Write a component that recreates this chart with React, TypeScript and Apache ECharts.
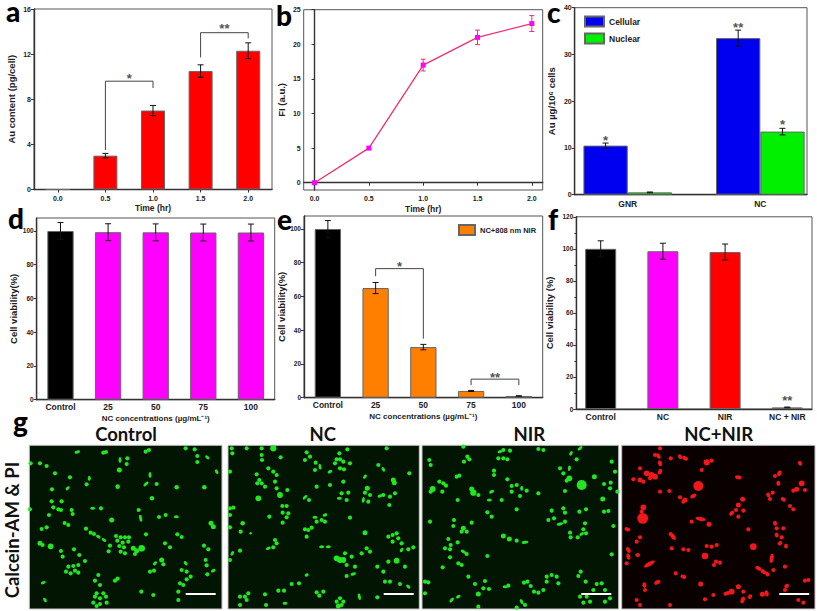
import React, { useEffect, useRef } from "react";
import * as echarts from "echarts";

const FONT = "'Liberation Sans', Arial, sans-serif";
const HEAD = "Lato, 'Open Sans', sans-serif";

const timeLabels = ["0.0", "0.5", "1.0", "1.5", "2.0"];
const auContent = [0, 3, 7, 10.5, 12.3];
const auContentErr = [0, 0.2, 0.45, 0.55, 0.7];

const timeValues = [0, 0.5, 1, 1.5, 2];
const fi = [0, 5, 17, 21, 23];
const fiErr = [0, 0, 0.85, 1.05, 1.15];

const cellTypes = ["GNR", "NC"];
const cellular = [10.5, 33.5];
const cellularErr = [0.55, 1.7];
const nuclear = [0.5, 13.5];
const nuclearErr = [0.08, 0.7];

const concLabels = ["Control", "25", "50", "75", "100"];
const viabD = [100, 99.3, 99.2, 99.1, 99.1];
const viabDErr = [5, 5, 5, 5, 5];
const viabE = [100, 65, 30, 4, 1];
const viabEErr = [5, 3.3, 1.6, 0.3, 0.15];

const groupLabels = ["Control", "NC", "NIR", "NC + NIR"];
const viabF = [100, 98.5, 98, 1];
const viabFErr = [5, 5, 5, 0.2];

// micrograph cells: [x, y, length, angle] in crop units
const controlCells = [[232,96,14,-20],[310,98],[318,96],[437,95],[447,90],[557,85],[584,88],[592,108],[592,126],[622,112,12,40],[120,130],[92,130],[140,138],[360,120,14,90],[382,115],[380,132],[358,150,12],[450,165,14,90],[650,155,12,60],[165,160],[210,172],[268,175,12,90],[260,193],[203,205,12,-45],[156,208],[438,192,15,-45],[470,192],[353,200,11],[530,202,11],[613,202,11],[456,235,11],[155,244],[185,244],[160,262],[175,268],[147,285],[183,270],[215,270],[278,265,12,0],[303,265],[218,282],[416,270],[422,295,17,80],[335,300,12],[477,291],[497,285],[529,290,12,0],[90,268],[194,309],[205,315],[633,310,12],[640,320,12],[125,327],[140,322],[258,326],[272,338],[282,342],[295,350,12,30],[312,360,12,30],[330,377],[348,348],[362,352],[375,352],[387,352],[352,362],[368,368],[385,365],[358,378],[372,382],[362,395],[375,400],[438,343],[532,343],[545,351],[120,370,12],[128,375],[152,379,14],[495,370],[510,382],[612,377],[625,388],[183,393],[222,388],[188,410],[238,405],[400,385,12],[410,392,12],[425,385,16],[405,402],[326,394],[255,423],[485,420,12],[465,430,12,-45],[490,433],[617,420],[620,436],[640,452,12,-30],[622,463],[205,440],[220,438],[235,435],[198,455],[212,460],[225,452],[235,458],[450,455],[462,452],[557,430,12,50],[545,450],[560,455],[540,490],[550,495],[560,478],[572,470],[130,488,12,-20],[295,465],[285,482],[300,495],[345,482],[353,476],[424,515],[460,525],[535,515],[535,540],[135,540,12,60],[290,520],[310,520],[285,530],[300,535],[318,530],[280,548],[300,552],[320,548],[290,558]];
const ncCells = [[695,85],[697,100],[740,85],[785,85],[820,85,15],[785,105],[786,120],[842,112],[920,97],[930,110],[947,128],[915,120],[960,140,14,80],[945,150],[1018,100],[1010,118],[1020,118],[1030,125],[1005,130],[1020,145],[1032,148],[1042,88],[1160,85],[1135,135],[1150,148,12,60],[1050,130],[805,145],[820,155],[770,163],[830,165],[778,180],[785,190],[772,190],[795,200],[825,185],[690,155],[1228,160],[1180,180,12],[1183,188,12],[1095,170,12,-50],[990,155,12,-30],[950,200],[990,195],[1030,185],[830,205],[862,210],[840,225,14],[775,235,14],[915,232,14,-45],[927,240],[1102,205,12],[1095,218],[1110,225],[1090,240,14,-80],[1105,245],[1025,220],[1045,218],[1018,235,12,0],[1040,240],[1140,228,12,-20],[1150,225],[1185,220],[1170,230],[1168,255],[860,258],[847,258],[848,278],[865,280],[860,292],[848,308],[690,265],[700,263],[690,285],[808,290],[945,292,12,0],[975,285,12,-20],[965,300],[975,305],[950,305],[1050,293],[728,310,11],[690,322],[722,335],[752,340,6],[925,330],[915,328],[935,323],[920,350],[1095,338,12],[1165,350],[1178,345],[1190,340],[1195,355],[1178,365],[1205,370],[825,360],[830,370],[805,385,12,-20],[820,382],[965,380,12,0],[985,380,12,0],[1240,382],[1225,388],[1100,385],[1085,400],[1110,395],[1205,390,12,-60],[720,392],[697,400,12,-60],[690,420],[1010,415,14],[1020,420,14],[1035,400],[1030,420,14],[1055,410],[1040,435],[1065,440],[1190,422,14],[1165,425],[1150,455],[1132,440],[1215,440],[1060,462,14,-20],[1040,468],[920,465,10,-20],[875,492],[897,490],[1155,485],[1170,485],[1200,492],[1225,500,12,40],[720,530],[735,530],[745,520],[740,540],[795,523],[835,512],[852,512],[950,517],[970,515],[958,527],[1078,530,16,80],[1132,532],[1020,535],[1010,545],[1030,545],[1015,558,12],[1025,555],[798,555],[855,550,12,0],[720,555]];
const nirCells = [[58,120],[62,135],[172,110],[162,125],[178,118],[270,95,12,-20],[280,90],[300,92],[265,115],[280,115],[292,118],[160,80],[385,87],[400,90],[510,85,14,-40],[483,100,12,-60],[500,118],[478,145,13,-80],[450,145],[460,160],[478,175,14],[470,182],[515,195,24],[553,170,12],[605,125],[615,155],[602,188],[582,192],[600,205],[622,215],[140,170],[148,167],[252,152],[252,165],[292,178],[88,185],[68,207,14],[62,215],[100,190],[108,197],[97,215],[185,207,12],[190,218,15],[205,225],[245,215,13,-30],[238,240,12,0],[143,240],[275,240],[305,198],[320,195],[335,205,12,90],[350,212],[305,215],[330,228],[385,220],[465,213],[578,237,12],[232,277],[245,290],[60,305],[132,300],[130,318],[185,308],[160,325,12],[170,335],[155,335],[320,268],[460,265],[465,278],[425,272],[508,275],[528,268],[582,275],[595,273],[432,295],[415,300],[450,312,16,-15],[465,305],[525,310],[610,318],[520,328],[515,342,12,-30],[528,340],[480,338],[482,352],[503,352],[280,348,12],[298,357,12],[320,362],[345,367,16,-10],[115,357],[122,375],[143,367],[105,385],[120,388],[160,395,14,30],[170,402],[605,403],[232,408],[120,412],[145,430],[155,435],[98,442],[512,455],[505,468],[527,485],[45,485],[55,487],[175,470],[225,483],[195,492],[285,500,12,0],[295,497],[342,488],[352,485],[410,470],[425,465],[440,470],[410,485],[445,490],[362,498],[372,515],[385,518],[400,510],[220,505],[237,507],[205,522,12],[45,520],[145,530,12,-30],[125,540,14,-50],[335,545,14,60],[345,555],[205,560],[320,563],[575,490],[560,492],[550,510],[585,510],[510,530],[530,530],[520,548],[540,545],[600,535],[585,545]];
const ncNirCells = [[750,85],[745,108,14,60],[735,105],[750,130,14,70],[782,115],[810,110,12,60],[825,115,15,30],[890,127,15],[905,122],[875,150,10,80],[690,145],[710,160,14],[725,165,14],[735,170,14],[750,155,14,-70],[670,178],[690,180,12],[700,185],[720,175],[985,172,16,10],[1108,160,14,-70],[1095,168],[1105,190,12,80],[1170,130,12,50],[1175,190,14],[1160,208,12],[1150,212],[1185,210],[865,198,24],[750,215],[778,213],[810,232],[825,240,12],[850,228,16,-30],[820,245],[998,238,12],[985,255,12],[978,270],[965,280,14,-40],[1000,272],[985,290],[1075,225,12,60],[1088,218],[1080,237],[1120,238,13,30],[1140,258],[1150,268],[700,262,14],[698,295,26],[695,275],[845,305],[872,297,24,10],[897,313,12],[1015,328],[1095,310,12,80],[1100,325],[1120,325],[1100,345,12,80],[1115,352],[652,328,14,20],[785,345,17,40],[790,352,14,40],[690,352],[680,365],[655,390,15,60],[655,410,15,80],[650,430],[785,385],[820,388],[835,390],[890,378],[905,380],[920,375],[1030,380,16],[1110,370,12,-30],[1128,378,12,90],[683,405,12,0],[885,408,16],[1085,415,22,-80],[918,425],[930,428],[912,435],[718,432,30,-30],[1045,445,15,30],[1060,455,15,40],[1072,462,13,50],[1125,440],[1090,450],[797,460],[820,470,14,20],[742,487,16,-30],[703,495,13,80],[705,510],[872,492,12],[950,520,16,-20],[965,515,14],[985,500,12],[1000,515],[1020,530,12,-70],[998,540,17,-70],[1057,523,12],[1070,520,15,80],[910,525],[885,538],[1130,498,12,-30],[1125,510],[1185,482],[1195,480],[680,540],[690,555],[780,555],[1165,540],[1180,548]];

const plotFrames = [
  { left: 34, top: 9, width: 238, height: 180.5 },
  { left: 303.7, top: 9.7, width: 239, height: 180.3 },
  { left: 574.7, top: 7.7, width: 232.3, height: 187 },
  { left: 36.7, top: 218, width: 238, height: 181.7 },
  { left: 304, top: 216, width: 238.7, height: 181.7 },
  { left: 576.3, top: 216.8, width: 235.7, height: 192.2 },
];

const micrographs = [
  { title: "Control", cells: controlCells, color: "#22e622", bg: "#021402", thick: 3, x: [88, 666], left: 29.3, width: 192.7, titleX: 126, bar: 185.7 },
  { title: "NC", cells: ncCells, color: "#22e622", bg: "#021402", thick: 3, x: [684, 1258], left: 228, width: 191.3, titleX: 322.7, bar: 383.7 },
  { title: "NIR", cells: nirCells, color: "#22e622", bg: "#021402", thick: 3, x: [36, 626], left: 422, width: 196.7, titleX: 529.3, bar: 581.3 },
  { title: "NC+NIR", cells: ncNirCells, color: "#f01818", bg: "#0a0000", thick: 4, x: [635, 1215], left: 621.7, width: 193.3, titleX: 718.7, bar: 779.3 },
];

const panelLetters: [string, number, number][] = [
  ["a", 6, 11], ["b", 276, 15], ["c", 547, 12], ["d", 8, 218], ["e", 277, 219], ["f", 548, 219], ["g", 13, 421],
];

const ELLIPSE = "path://M0 10A10 10 0 1 1 20 10A10 10 0 1 1 0 10Z";
const textCol = "#222";
const frameCol = "#555";
const starFont = `bold 13px ${FONT}`;

function errorSeries(g: number, xs: number[], ys: number[], errs: number[], color = "#111", dx = 0, capW = 6) {
  return {
    type: "custom", xAxisIndex: g, yAxisIndex: g, z: 6, silent: true,
    data: xs.map((x, i) => [x, ys[i], errs[i]]).filter((d) => d[2] > 0),
    renderItem: (_: any, api: any) => {
      const x = api.value(0), y = api.value(1), e = api.value(2);
      const hi = api.coord([x, y + e]);
      const lo = api.coord([x, y - e]);
      const st = { stroke: color, lineWidth: 1, fill: "none" };
      const px = hi[0] + dx;
      return {
        type: "group",
        children: [
          { type: "line", shape: { x1: px, y1: hi[1], x2: px, y2: lo[1] }, style: st },
          { type: "line", shape: { x1: px - capW / 2, y1: hi[1], x2: px + capW / 2, y2: hi[1] }, style: st },
          { type: "line", shape: { x1: px - capW / 2, y1: lo[1], x2: px + capW / 2, y2: lo[1] }, style: st },
        ],
      };
    },
  };
}

// [x1, yLeftEnd, x2, yRightEnd, yTop]
function bracketSeries(g: number, items: number[][], marks: string[], starY: number[]) {
  return {
    type: "custom", xAxisIndex: g, yAxisIndex: g, z: 7, silent: true,
    data: items,
    renderItem: (p: any, api: any) => {
      const a = api.coord([api.value(0), api.value(1)]);
      const b = api.coord([api.value(2), api.value(3)]);
      const t = api.coord([api.value(0), api.value(4)]);
      const s = api.coord([api.value(0), starY[p.dataIndex]]);
      return {
        type: "group",
        children: [
          { type: "polyline", shape: { points: [a, [a[0], t[1]], [b[0], t[1]], b] }, style: { stroke: "#444", lineWidth: 1, fill: "none" } },
          { type: "text", style: { x: (a[0] + b[0]) / 2, y: s[1] + 3, text: marks[p.dataIndex], align: "center", verticalAlign: "middle", font: starFont, fill: "#555" } },
        ],
      };
    },
  };
}

function starSeries(g: number, items: number[][], marks: string[]) {
  return {
    type: "custom", xAxisIndex: g, yAxisIndex: g, z: 7, silent: true,
    data: items,
    renderItem: (p: any, api: any) => {
      const c = api.coord([api.value(0), api.value(1)]);
      return { type: "text", style: { x: c[0] + api.value(2), y: c[1] + 3, text: marks[p.dataIndex], align: "center", verticalAlign: "middle", font: starFont, fill: "#555" } };
    },
  };
}

const axLine = { show: true, lineStyle: { color: "#333", width: 1.4 } };
const tick = { show: true, length: 3, lineStyle: { color: "#333", width: 1 } };

function yAxisOf(g: number, name: string, nameGap: number, extra: any, labelSize = 7) {
  const { customValues, ...rest } = extra;
  return {
    type: "value", gridIndex: g, name, nameLocation: "middle", nameGap,
    nameTextStyle: { fontFamily: FONT, fontWeight: "bold", fontSize: 9.5, color: textCol },
    splitLine: { show: false }, axisLine: axLine,
    axisTick: customValues ? { ...tick, customValues } : tick,
    axisLabel: { fontFamily: FONT, fontWeight: "bold", fontSize: labelSize, color: textCol, margin: 3, ...(customValues ? { customValues } : {}) },
    ...rest,
  };
}

function catAxis(g: number, data: string[], name: string, nameGap: number, size: number, ticks: boolean, margin: number, nameSize = 8.5) {
  return {
    type: "category", gridIndex: g, data, name, nameLocation: "middle", nameGap,
    nameTextStyle: { fontFamily: FONT, fontWeight: "bold", fontSize: nameSize, color: textCol },
    axisLine: axLine, axisTick: { ...tick, show: ticks, alignWithLabel: true },
    axisLabel: { fontFamily: FONT, fontWeight: "bold", fontSize: size, color: textCol, margin, interval: 0 },
    splitLine: { show: false },
  };
}

function numCatAxis(g: number, labels: string[], min: number, max: number, margin: number) {
  const values = labels.map((_, i) => i + 1);
  return {
    type: "value", gridIndex: g, min, max,
    axisLine: axLine, axisTick: { show: false }, splitLine: { show: false },
    axisLabel: { fontFamily: FONT, fontWeight: "bold", fontSize: 8.5, color: textCol, margin, customValues: values, formatter: (v: number) => labels[Math.round(v) - 1] ?? "" },
  };
}

function barStyle(color: string) {
  return { color, borderColor: "#666", borderWidth: 1 };
}

function buildOption() {
  const grids: any[] = plotFrames.map((f) => ({ ...f, show: true, borderColor: frameCol, borderWidth: 1, backgroundColor: "#fff", containLabel: false }));
  const xAxes: any[] = [
    catAxis(0, timeLabels, "Time (hr)", 14, 7, true, 5),
    {
      type: "value", gridIndex: 1, min: -0.1, max: 2.1, name: "Time (hr)", nameLocation: "middle", nameGap: 14,
      nameTextStyle: { fontFamily: FONT, fontWeight: "bold", fontSize: 8.5, color: textCol },
      axisLine: axLine, splitLine: { show: false }, axisTick: { ...tick, customValues: timeValues },
      axisLabel: { fontFamily: FONT, fontWeight: "bold", fontSize: 7, color: textCol, margin: 5, customValues: timeValues, formatter: (v: number) => v.toFixed(1) },
    },
    numCatAxis(2, cellTypes, 0.6, 2.352, 5),
    catAxis(3, concLabels, "NC concentrations (µg/mL⁻¹)", 15, 8.5, false, 3, 8),
    catAxis(4, concLabels, "NC concentrations (µg/mL⁻¹)", 15, 8.5, false, 3, 8),
    numCatAxis(5, groupLabels, 0.608, 4.397, 3),
  ];
  const yAxes: any[] = [
    yAxisOf(0, "Au content (pg/cell)", 18, { min: 0, max: 16, interval: 4 }),
    yAxisOf(1, "FI (a.u.)", 17, { min: -1.05, max: 25, customValues: [0, 5, 10, 15, 20, 25] }),
    yAxisOf(2, "Au µg/10⁶ cells", 18, { min: 0, max: 40, interval: 10 }),
    yAxisOf(3, "Cell viability(%)", 18, { min: 0, max: 107.7, customValues: [0, 20, 40, 60, 80, 100] }, 6.5),
    yAxisOf(4, "Cell viability(%)", 18, { min: 0, max: 107.7, customValues: [0, 20, 40, 60, 80, 100] }, 6.5),
    yAxisOf(5, "Cell viability (%)", 22, { min: 0, max: 120, interval: 20, minorTick: { show: true, splitNumber: 2, length: 2, lineStyle: { color: "#333" } } }, 6.5),
  ];

  const idx = (a: any[]) => a.map((_, i) => i);
  const series: any[] = [];
  // a
  series.push({ type: "bar", name: "Au content", xAxisIndex: 0, yAxisIndex: 0, barWidth: 24, data: auContent, itemStyle: barStyle("#ff0000"), z: 3 });
  series.push(errorSeries(0, idx(auContent), auContent, auContentErr));
  series.push(bracketSeries(0, [[1, 3.5, 2, 9.0, 9.6], [3, 11.7, 4, 13.4, 13.9]], ["*", "**"], [10.1, 14.5]));
  // b
  series.push({ type: "line", name: "FI", xAxisIndex: 1, yAxisIndex: 1, data: timeValues.map((t, i) => [t, fi[i]]), lineStyle: { color: "#f0306e", width: 1.3 }, symbol: "rect", symbolSize: 5, itemStyle: { color: "#ff00ff" }, z: 4 });
  series.push(errorSeries(1, timeValues, fi, fiErr, "#e8307e", 0, 5));
  // c
  series.push({ type: "bar", name: "Cellular", xAxisIndex: 2, yAxisIndex: 2, barWidth: 44.3, barGap: "0%", data: cellular.map((v, i) => [i + 1, v]), itemStyle: barStyle("#0000f0"), z: 3 });
  series.push({ type: "bar", name: "Nuclear", xAxisIndex: 2, yAxisIndex: 2, barWidth: 44.3, barGap: "0%", data: nuclear.map((v, i) => [i + 1, v]), itemStyle: barStyle("#00f000"), z: 3 });
  series.push(errorSeries(2, [1, 2], cellular, cellularErr, "#111", -22.15));
  series.push(errorSeries(2, [1, 2], nuclear, nuclearErr, "#111", 22.15));
  series.push(starSeries(2, [[1, 12.3, -22.15], [2, 36.3, -22.15], [2, 15.6, 22.15]], ["*", "**", "*"]));
  // d
  const dColors = ["#000000", "#ff00ff", "#ff00ff", "#ff00ff", "#ff00ff"];
  series.push({ type: "bar", name: "Viability", xAxisIndex: 3, yAxisIndex: 3, barWidth: 26.3, z: 3, data: viabD.map((v, i) => ({ value: v, itemStyle: barStyle(dColors[i]) })) });
  series.push(errorSeries(3, idx(viabD), viabD, viabDErr));
  // e
  const eColors = ["#000000", "#ff7f00", "#ff7f00", "#ff7f00", "#ff7f00"];
  series.push({ type: "bar", name: "NC+808 nm NIR", xAxisIndex: 4, yAxisIndex: 4, barWidth: 26.3, z: 3, itemStyle: barStyle("#ff7f00"), data: viabE.map((v, i) => ({ value: v, itemStyle: barStyle(eColors[i]) })) });
  series.push(errorSeries(4, idx(viabE), viabE, viabEErr));
  series.push(bracketSeries(4, [[1, 72, 2, 35, 76.5], [3, 7.5, 4, 7.5, 11]], ["*", "**"], [79.7, 13.5]));
  // f
  const fColors = ["#000000", "#ff00ff", "#ff0000", "#b000b0"];
  series.push({ type: "bar", name: "Viability", xAxisIndex: 5, yAxisIndex: 5, barWidth: 31, z: 3, data: viabF.map((v, i) => ({ value: [i + 1, v], itemStyle: barStyle(fColors[i]) })) });
  series.push(errorSeries(5, [1, 2, 3, 4], viabF, viabFErr));
  series.push(starSeries(5, [[4, 7.4, 0]], ["**"]));

  // micrographs
  const graphicEls: any[] = [];
  micrographs.forEach((m, k) => {
    const g = 6 + k;
    grids.push({ left: m.left, top: 445.3, width: m.width, height: 163.7, show: true, backgroundColor: m.bg, borderColor: "#c4c4c4", borderWidth: 1 });
    xAxes.push({ type: "value", gridIndex: g, min: m.x[0], max: m.x[1], show: false });
    yAxes.push({ type: "value", gridIndex: g, min: 76, max: 567, inverse: true, show: false });
    series.push({
      type: "scatter", xAxisIndex: g, yAxisIndex: g, silent: true, z: 3,
      data: m.cells.map((c) => [c[0], c[1], c[2] ?? 10, c[3] ?? 999]),
      symbol: ELLIPSE,
      symbolKeepAspect: false,
      symbolSize: (d: number[]) => {
        const len = (d[2] * 1.25) / 3;
        return d[3] === 999 ? [len, len] : [len, m.thick];
      },
      symbolRotate: (d: number[]) => (d[3] === 999 ? 0 : -d[3]),
      itemStyle: { color: m.color, opacity: 1 },
    });
    graphicEls.push({ type: "text", x: m.titleX, y: 434, style: { text: m.title, font: `bold 18.5px ${HEAD}`, lineHeight: 18, fill: "#111", align: "center", verticalAlign: "middle" } });
    graphicEls.push({ type: "rect", shape: { x: m.bar, y: 593, width: 30, height: 2 }, style: { fill: "#fff" }, z: 50 });
  });

  panelLetters.forEach(([t, x, y]) => {
    graphicEls.push({ type: "text", x, y, z: 60, style: { text: t, font: `900 28px ${HEAD}`, lineHeight: 20, fill: "#000", align: "left", verticalAlign: "middle" } });
  });
  graphicEls.push({ type: "text", x: 12, y: 530, rotation: Math.PI / 2, style: { text: "Calcein-AM & PI", font: `bold 18.5px ${HEAD}`, lineHeight: 18, fill: "#111", align: "center", verticalAlign: "middle" } });

  const legendText = { fontFamily: FONT, fontWeight: "bold", color: textCol };
  return {
    animation: false,
    backgroundColor: "#fff",
    grid: grids,
    xAxis: xAxes,
    yAxis: yAxes,
    series,
    graphic: graphicEls,
    legend: [
      { data: ["Cellular", "Nuclear"], left: 584, top: 15.5, orient: "vertical", icon: "rect", itemWidth: 19, itemHeight: 10, itemGap: 5, padding: 0, textStyle: { ...legendText, fontSize: 8.5 }, selectedMode: false },
      { data: ["NC+808 nm NIR"], left: 458, top: 224, icon: "rect", itemWidth: 16, itemHeight: 10, padding: 0, textStyle: { ...legendText, fontSize: 7.5 }, selectedMode: false },
    ],
  };
}

export default function App() {
  const ref = useRef<HTMLDivElement>(null);
  useEffect(() => {
    document.body.style.margin = "0";
    const chart = echarts.init(ref.current!, undefined, { renderer: "svg" });
    chart.setOption(buildOption() as any);
    return () => chart.dispose();
  }, []);
  return <div ref={ref} style={{ width: 817, height: 611 }} />;
}
